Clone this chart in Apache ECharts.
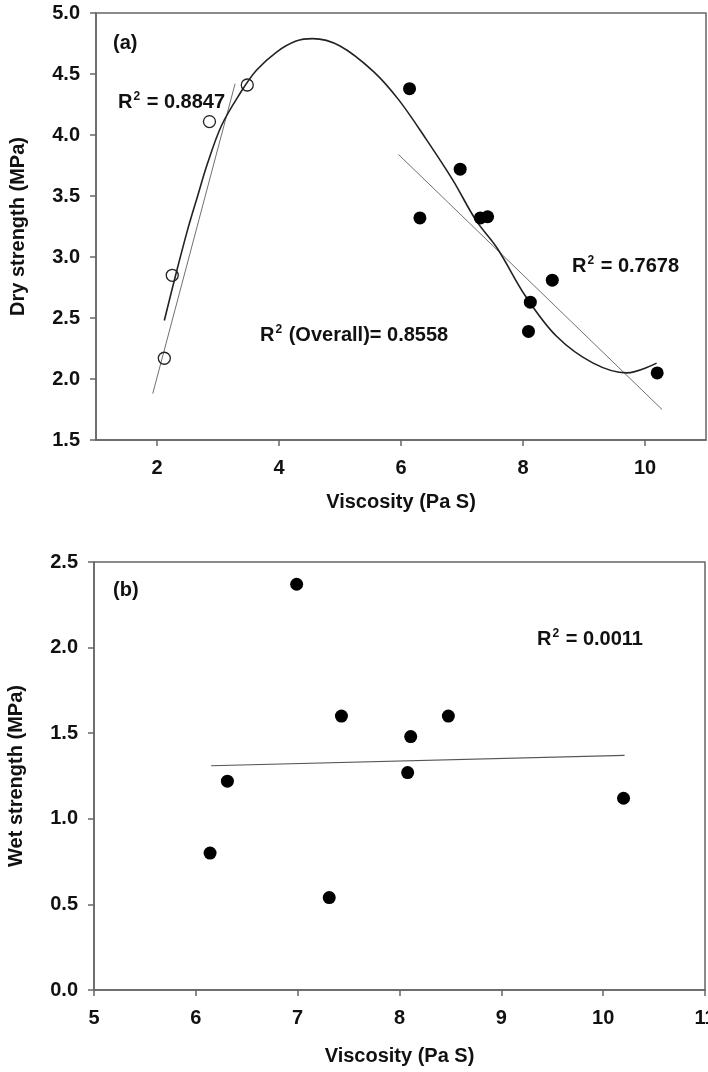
<!DOCTYPE html>
<html>
<head>
<meta charset="utf-8">
<script src="https://cdn.jsdelivr.net/npm/echarts@6/dist/echarts.min.js"></script>
<style>
html,body{margin:0;padding:0;background:#fff;}
#c{width:708px;height:1072px;}
</style>
</head>
<body>
<div id="c"></div>
<script>
// ---- Data ----
// Panel (a): dry strength vs viscosity
var openViscosity = [2.12, 2.25, 2.86, 3.48];
var openDry = [2.17, 2.85, 4.11, 4.41];
var filledViscosity = [6.14, 6.31, 6.97, 7.30, 7.42, 8.09, 8.12, 8.48, 10.20];
var filledDry = [4.38, 3.32, 3.72, 3.32, 3.33, 2.39, 2.63, 2.81, 2.05];
// overall fitted curve
var curveX = [2.12, 2.30, 2.50, 2.66, 2.83, 3.06, 3.36, 3.63, 3.96, 4.28, 4.55, 5.00, 5.55, 5.96, 6.42, 6.85, 7.23, 7.58, 8.04, 8.55, 9.15, 9.70, 10.19];
var curveY = [2.48, 2.84, 3.22, 3.49, 3.77, 4.08, 4.34, 4.53, 4.68, 4.77, 4.79, 4.73, 4.52, 4.29, 3.96, 3.63, 3.30, 3.07, 2.68, 2.35, 2.13, 2.05, 2.13];
// linear fit lines (end points)
var fitOpenX = [1.93, 3.28];
var fitOpenY = [1.88, 4.42];
var fitFilledX = [5.96, 10.28];
var fitFilledY = [3.84, 1.75];
// Panel (b): wet strength vs viscosity
var wetViscosity = [6.14, 6.31, 6.99, 7.31, 7.43, 8.08, 8.11, 8.48, 10.20];
var wetStrength = [0.80, 1.22, 2.37, 0.54, 1.60, 1.27, 1.48, 1.60, 1.12];
var fitWetX = [6.15, 10.21];
var fitWetY = [1.31, 1.37];
// tick labels
var dryXTicks = [2, 4, 6, 8, 10];
var annotations = {
  a: '(a)', b: '(b)',
  r2open: '0.8847', r2filled: '0.7678', r2overall: '0.8558', r2wet: '0.0011'
};

function pairs(xs, ys) { return xs.map(function (x, i) { return [x, ys[i]]; }); }

var FONT = 'Liberation Sans';
var TXT = '#111';
var AX = '#666';
var FS = 20;

function axisCommon() {
  return {
    axisLine: { show: true, onZero: false, lineStyle: { color: AX, width: 1.5 } },
    axisTick: { show: true, inside: false, length: 6, lineStyle: { color: AX, width: 1.5 } },
    splitLine: { show: false },
    axisLabel: { color: TXT, fontFamily: FONT, fontWeight: 'bold', fontSize: FS, margin: 16 },
    nameTextStyle: { color: TXT, fontFamily: FONT, fontWeight: 'bold', fontSize: FS },
    nameLocation: 'middle'
  };
}
function merge(a, b) { for (var k in b) a[k] = b[k]; return a; }

var chart = echarts.init(document.getElementById('c'), null, { renderer: 'canvas' });

var x0 = merge(axisCommon(), {
  type: 'value', gridIndex: 0, min: 1, max: 11, name: 'Viscosity (Pa S)', nameGap: 52
});
x0.axisLabel = merge(x0.axisLabel, { customValues: dryXTicks, margin: 18 });
x0.axisTick = merge(x0.axisTick, { customValues: dryXTicks });

var y0 = merge(axisCommon(), {
  type: 'value', gridIndex: 0, min: 1.5, max: 5, interval: 0.5, name: 'Dry strength (MPa)', nameGap: 68
});
y0.axisLabel = merge(y0.axisLabel, { formatter: function (v) { return v.toFixed(1); } });

var x1 = merge(axisCommon(), {
  type: 'value', gridIndex: 1, min: 5, max: 11, interval: 1, name: 'Viscosity (Pa S)', nameGap: 56
});
x1.axisLabel = merge(x1.axisLabel, { margin: 18 });
var y1 = merge(axisCommon(), {
  type: 'value', gridIndex: 1, min: 0, max: 2.5, interval: 0.5, name: 'Wet strength (MPa)', nameGap: 68
});
y1.axisLabel = merge(y1.axisLabel, { formatter: function (v) { return v.toFixed(1); } });

function r2Text(val) { return '{r|R}{s|2}{r| = ' + val + '}'; }
var rich = {
  r: { fontFamily: FONT, fontWeight: 'bold', fontSize: FS, fill: TXT, color: TXT },
  s: { fontFamily: FONT, fontWeight: 'bold', fontSize: 12, fill: TXT, color: TXT, padding: [0, 1, 10, 1] }
};
function txt(x, y, text) {
  return { type: 'text', left: x, top: y, z: 100,
    style: { text: text, rich: rich, font: 'bold ' + FS + 'px ' + FONT, fill: TXT } };
}

chart.setOption({
  animation: false,
  backgroundColor: '#fff',
  grid: [
    { left: 96, top: 13, width: 610, height: 427, show: true, borderColor: AX, borderWidth: 1.5, backgroundColor: 'transparent', containLabel: false, outerBoundsMode: 'none' },
    { left: 94, top: 562, width: 611, height: 428, show: true, borderColor: AX, borderWidth: 1.5, backgroundColor: 'transparent', containLabel: false, outerBoundsMode: 'none' }
  ],
  xAxis: [x0, x1],
  yAxis: [y0, y1],
  series: [
    { type: 'line', xAxisIndex: 0, yAxisIndex: 0, data: pairs(fitOpenX, fitOpenY), showSymbol: false, symbol: 'none',
      lineStyle: { color: '#707070', width: 1 }, z: 2 },
    { type: 'line', xAxisIndex: 0, yAxisIndex: 0, data: pairs(fitFilledX, fitFilledY), showSymbol: false, symbol: 'none',
      lineStyle: { color: '#707070', width: 1 }, z: 2 },
    { type: 'scatter', xAxisIndex: 0, yAxisIndex: 0, data: pairs(openViscosity, openDry), symbol: 'circle', symbolSize: 12,
      itemStyle: { color: 'rgba(255,255,255,0)', borderColor: '#222', borderWidth: 1.3, opacity: 1 }, z: 3 },
    { type: 'line', xAxisIndex: 0, yAxisIndex: 0, data: pairs(curveX, curveY), smooth: 0.35, showSymbol: false, symbol: 'none',
      lineStyle: { color: '#222', width: 1.6 }, z: 4 },
    { type: 'scatter', xAxisIndex: 0, yAxisIndex: 0, data: pairs(filledViscosity, filledDry), symbol: 'circle', symbolSize: 13,
      itemStyle: { color: '#000', opacity: 1 }, z: 5 },
    { type: 'line', xAxisIndex: 1, yAxisIndex: 1, data: pairs(fitWetX, fitWetY), showSymbol: false, symbol: 'none',
      lineStyle: { color: '#555', width: 1.2 }, z: 2 },
    { type: 'scatter', xAxisIndex: 1, yAxisIndex: 1, data: pairs(wetViscosity, wetStrength), symbol: 'circle', symbolSize: 13,
      itemStyle: { color: '#000', opacity: 1 }, z: 5 }
  ],
  graphic: [
    txt(113, 33, '{r|' + annotations.a + '}'),
    txt(118, 91, r2Text(annotations.r2open)),
    txt(260, 324, '{r|R}{s|2}{r| (Overall)= ' + annotations.r2overall + '}'),
    txt(572, 255, r2Text(annotations.r2filled)),
    txt(113, 580, '{r|' + annotations.b + '}'),
    txt(537, 628, r2Text(annotations.r2wet))
  ]
});
</script>
</body>
</html>
